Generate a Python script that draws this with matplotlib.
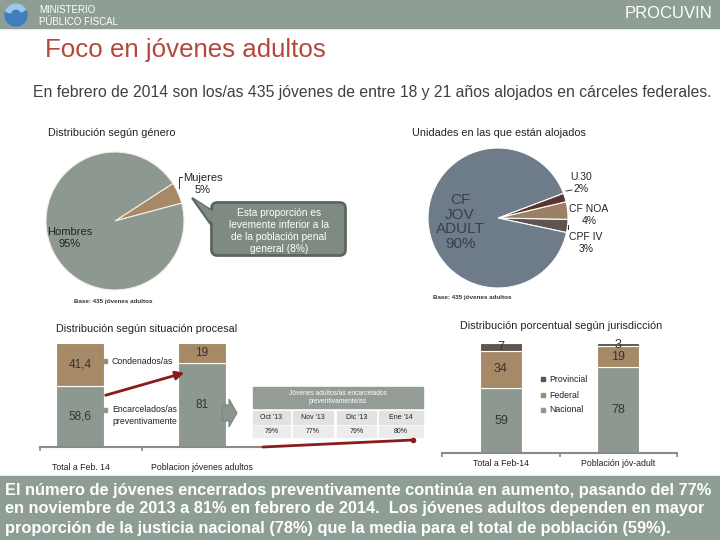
import matplotlib
matplotlib.use("Agg")
import matplotlib.pyplot as plt
from matplotlib.patches import Rectangle, FancyBboxPatch, Polygon, Circle, Wedge

plt.rcParams['font.family'] = ['Liberation Sans', 'DejaVu Sans']

# ---- data ----
genero_labels = ["Mujeres", "Hombres"]
genero_vals = [5, 95]

unidades_labels = ["CPF IV", "CF NOA", "U.30", "CF JOV ADULT"]
unidades_vals = [3, 4, 2, 90]

procesal_cats = ["Total a Feb. 14", "Poblacion jóvenes adultos"]
preventivos = [58.6, 81]
condenados = [41.4, 19]
procesal_txt_prev = ["58,6", "81"]
procesal_txt_cond = ["41,4", "19"]

meses = ["Oct '13", "Nov '13", "Dic '13", "Ene '14"]
pct_prev_mes = ["79%", "77%", "79%", "80%"]

juris_cats = ["Total a Feb-14", "Población jóv-adult"]
nacional = [59, 78]
federal = [34, 19]
provincial = [7, 3]

# colours
BAND = "#8f9e94"
C_GRAY = "#8d9990"
C_TAN = "#a68967"
C_DARK = "#5f5450"
C_SLATE = "#6e7b88"
C_U30 = "#5a3530"
C_NOA = "#9a8163"
RED = "#8b1a1a"
W, H = 720, 540

fig = plt.figure(figsize=(7.2, 5.4), dpi=100)


def px_axes(x0, y0, x1, y1):
    return fig.add_axes([x0 / W, 1 - y1 / H, (x1 - x0) / W, (y1 - y0) / H])


# ---- pies ----
axg = px_axes(46, 152, 184, 290)
axg.pie(genero_vals, colors=[C_TAN, C_GRAY], startangle=15,
        wedgeprops=dict(edgecolor="#f4efe0", linewidth=0.8))
axg.set_xlim(-1, 1); axg.set_ylim(-1, 1); axg.set_aspect("equal")

axu = px_axes(428, 148, 568, 288)
axu.pie(unidades_vals, colors=[C_DARK, C_NOA, C_U30, C_SLATE], startangle=-12,
        wedgeprops=dict(edgecolor="white", linewidth=0.8))
axu.set_xlim(-1, 1); axu.set_ylim(-1, 1); axu.set_aspect("equal")


def style_bar_axes(ax, xlim, ticks):
    ax.set_xlim(*xlim)
    ax.set_ylim(0, 100)
    for s in ["top", "right", "left"]:
        ax.spines[s].set_visible(False)
    ax.spines["bottom"].set_color("#8a8a8a")
    ax.spines["bottom"].set_linewidth(1.5)
    ax.set_yticks([])
    ax.set_xticks(ticks)
    ax.set_xticklabels([])
    ax.tick_params(axis="x", length=3, width=1.2, color="#8a8a8a", direction="out")


# ---- situación procesal ----
axp = px_axes(40, 343, 263, 447)
xp = [0, 1]
axp.bar(xp, preventivos, width=0.39, color=C_GRAY, edgecolor="white", linewidth=0.8)
axp.bar(xp, condenados, bottom=preventivos, width=0.39, color=C_TAN,
        edgecolor="white", linewidth=0.8)
style_bar_axes(axp, (-0.33, 1.5), [-0.33, 0.51])
for i in xp:
    axp.text(i, preventivos[i] / 2, procesal_txt_prev[i], ha="center", va="center",
             fontsize=8.5, color="#333333")
    axp.text(i, preventivos[i] + condenados[i] / 2, procesal_txt_cond[i], ha="center",
             va="center", fontsize=8.5, color="#333333")

# ---- jurisdicción ----
axj = px_axes(442, 343, 677, 453)
xj = [0, 1]
fed_bottom = [n for n in nacional]
prov_bottom = [n + f for n, f in zip(nacional, federal)]
axj.bar(xj, nacional, width=0.36, color=C_GRAY, edgecolor="white", linewidth=0.8)
axj.bar(xj, federal, bottom=fed_bottom, width=0.36, color=C_TAN, edgecolor="white", linewidth=0.8)
axj.bar(xj, provincial, bottom=prov_bottom, width=0.36, color=C_DARK, edgecolor="white", linewidth=0.8)
style_bar_axes(axj, (-0.504, 1.504), [-0.504, 0.5, 1.504])
for i in xj:
    axj.text(i, nacional[i] / 2, str(nacional[i]), ha="center", va="center", fontsize=9, color="#333333")
    axj.text(i, fed_bottom[i] + federal[i] / 2, str(federal[i]), ha="center", va="center",
             fontsize=9, color="#333333")
    axj.text(i, prov_bottom[i] + provincial[i] / 2, str(provincial[i]), ha="center", va="center",
             fontsize=9, color="#333333")

# ---- overlay for slide layout ----
ov = fig.add_axes([0, 0, 1, 1], zorder=10)
ov.set_xlim(0, W); ov.set_ylim(H, 0); ov.axis("off")
ov.patch.set_alpha(0)

# header / footer bands
ov.add_patch(Rectangle((0, 0), W, 28, color=BAND, zorder=0))
ov.add_patch(Rectangle((0, 476), W, 64, color=BAND, zorder=0))
ov.add_patch(Circle((16, 15), 11, color="#3f7fbf"))
ov.add_patch(Wedge((16, 15), 11, 200, 330, width=5, color="#9cc8ea"))
ov.text(39, 10, "MINISTERIO", color="white", fontsize=7, va="center")
ov.text(39, 22, "PÚBLICO FISCAL", color="white", fontsize=7, va="center")
ov.text(712, 14, "PROCUVIN", color="white", fontsize=12, ha="right", va="center")

ov.text(45, 50, "Foco en jóvenes adultos", color="#b5473a", fontsize=18.6, va="center")
sub = ov.text(33, 92, "En febrero de 2014 son los/as 435 jóvenes de entre 18 y 21 años alojados en cárceles federales.",
              color="#404040", fontsize=12, va="center")
# shrink the subtitle so it spans the same width as on the slide
r = fig.canvas.get_renderer()
wpx = sub.get_window_extent(r).width
sub.set_fontsize(12 * 680 / wpx)

# pie titles / labels
ov.text(48, 133, "Distribución según género", fontsize=7.8, color="#222222", va="center")
ov.text(412, 133, "Unidades en las que están alojados", fontsize=7.8, color="#222222", va="center")
ov.text(203, 184, "Mujeres\n5%", fontsize=8, ha="center", va="center", color="#222222")
ov.plot([182, 179, 179], [177, 177, 188], color="#333333", lw=0.7)
ov.text(70, 238, "Hombres\n95%", fontsize=8, ha="center", va="center", color="#222222")
ov.text(113, 301, "Base: 435 jóvenes adultos", fontsize=4.5, ha="center", va="center",
        color="#333333", weight="bold")
ov.text(472, 298, "Base: 435 jóvenes adultos", fontsize=4.5, ha="center", va="center",
        color="#333333", weight="bold")

ov.text(460, 222, "CF\nJOV\nADULT\n90%", fontsize=11, ha="center", va="center",
        color="#3a4048", linespacing=1.05)
ov.text(581, 183, "U.30\n2%", fontsize=7.5, ha="center", va="center", color="#222222")
ov.plot([566, 572], [191, 190], color="#333333", lw=0.7)
ov.text(589, 215, "CF NOA\n4%", fontsize=7.5, ha="center", va="center", color="#222222")
ov.plot([568, 568], [225, 229], color="#333333", lw=0.7)
ov.text(586, 243, "CPF IV\n3%", fontsize=7.5, ha="center", va="center", color="#222222")

# callout
ov.add_patch(Polygon([[192, 198], [214, 212], [214, 229]], closed=True,
                     facecolor="#7e8a82", edgecolor="#5d655f", lw=1.5, zorder=2))
ov.add_patch(FancyBboxPatch((213, 204), 131, 50, boxstyle="round,pad=1.5,rounding_size=6",
                            facecolor="#7e8a82", edgecolor="#5d655f", lw=2, zorder=3))
ov.add_patch(Polygon([[194, 199], [216, 213.5], [216, 227.5]], closed=True,
                     facecolor="#7e8a82", edgecolor="none", zorder=4))
for yy, line in zip([213, 225, 237, 249], ["Esta proporción es", "levemente inferior a la",
                                           "de la población penal", "general (8%)"]):
    ov.text(279, yy, line, fontsize=7.3, color="white", ha="center", va="center", zorder=5)

# situación procesal extras
ov.text(56, 329, "Distribución según situación procesal", fontsize=7.8, color="#222222", va="center")
ov.add_patch(Rectangle((103, 359), 4, 4, color=C_TAN))
ov.text(112, 362, "Condenados/as", fontsize=6.3, color="#222222", va="center")
ov.add_patch(Rectangle((103, 408), 4, 4, color=C_GRAY))
ov.text(112, 410, "Encarcelados/as", fontsize=6.3, color="#222222", va="center")
ov.text(112, 421, "preventivamente", fontsize=6.3, color="#222222", va="center")
ov.annotate("", xy=(187, 372), xytext=(103, 396),
            arrowprops=dict(arrowstyle="-|>,head_length=0.5,head_width=0.25", color=RED, lw=2))
for xx, lab in zip([81, 202], procesal_cats):
    ov.text(xx, 467, lab, fontsize=6.3, ha="center", va="center", color="#222222")

# block arrow
ov.add_patch(Polygon([[222, 405], [229, 405], [229, 399], [237, 413], [229, 427], [229, 421],
                      [222, 421]], closed=True, facecolor="#8a948c", edgecolor="#7a847c", lw=0.8))

# table
ov.add_patch(Rectangle((253, 387), 170, 21, color="#939c95"))
ov.text(338, 397.5, "Jóvenes adultos/as encarcelados\npreventivamente/as", fontsize=4.8,
        color="white", ha="center", va="center", linespacing=1.1)
cell_x = [(253, 290), (293, 333), (337, 376), (379, 423)]
for (x0, x1), m, v in zip(cell_x, meses, pct_prev_mes):
    ov.add_patch(Rectangle((x0, 411), x1 - x0, 13, color="#e2e2e2"))
    ov.add_patch(Rectangle((x0, 426), x1 - x0, 11, color="#ececec"))
    ov.text((x0 + x1) / 2, 417.5, m, fontsize=5, ha="center", va="center", color="#222222")
    ov.text((x0 + x1) / 2, 431.5, v, fontsize=5, ha="center", va="center", color="#222222")
ov.plot([263, 413], [447, 440], color=RED, lw=2, solid_capstyle="round")
ov.plot([413], [440], "o", color=RED, ms=3)

# jurisdicción extras
ov.text(460, 326, "Distribución porcentual según jurisdicción", fontsize=7.8, color="#222222",
        va="center")
for yy, lab, col in zip([379, 395, 410], ["Provincial", "Federal", "Nacional"],
                        [C_DARK, C_TAN, C_GRAY]):
    ov.add_patch(Rectangle((541, yy - 2), 4, 4, color=col))
    ov.text(549, yy, lab, fontsize=6.3, color="#222222", va="center")
for xx, lab in zip([501, 618], juris_cats):
    ov.text(xx, 464, lab, fontsize=6.3, ha="center", va="center", color="#222222")

# footer text
for yy, line in zip([490, 509, 528], [
        "El número de jóvenes encerrados preventivamente continúa en aumento, pasando del 77%",
        "en noviembre de 2013 a 81% en febrero de 2014.  Los jóvenes adultos dependen en mayor",
        "proporción de la justicia nacional (78%) que la media para el total de población (59%)."]):
    ov.text(5, yy, line, fontsize=11.8, weight="bold", color="white", va="center")

fig.savefig("out.png", dpi=100)
